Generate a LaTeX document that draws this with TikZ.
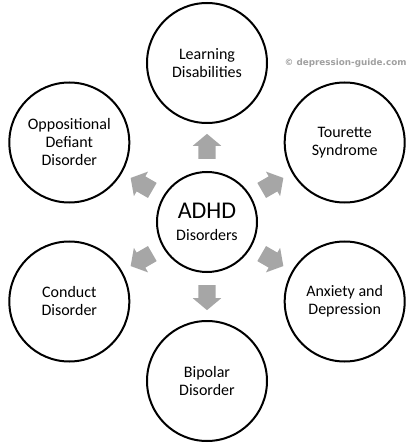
\documentclass[tikz,border=0pt]{standalone}
\usepackage{fontspec}
\setmainfont{Carlito}
\newfontfamily\markfont{DejaVu Sans}
\usetikzlibrary{shapes.arrows,calc}
\definecolor{arrowgray}{HTML}{A6A6A6}
\definecolor{markgray}{HTML}{A0A0A0}

\tikzset{
  disorder/.style={circle,draw,line width=2pt,minimum size=120pt,align=center,font=\fontsize{16}{18}\selectfont},
  hub/.style={circle,draw,line width=2pt,minimum size=100pt,align=center,font=\fontsize{16}{22}\selectfont},
  block/.style={single arrow,fill=arrowgray,draw=none,minimum height=25pt,inner xsep=0pt,inner ysep=8.5pt,single arrow head extend=5.5pt,single arrow tip angle=100}
}

\begin{document}
\begin{tikzpicture}[x=1pt,y=1pt]
		\useasboundingbox (-207,-222) rectangle (207,222);
		
		% Center
		\node[hub] (adhd) at (0,0) {{\fontsize{24}{24}\selectfont ADHD}\\Disorders};
		
		% Circles
		\node[disorder] (learn) at (90:159) {Learning\\Disabilities};
		\node[disorder] (tourette) at (30:159) {Tourette\\Syndrome};
		\node[disorder] (anxiety) at (-30:159) {Anxiety and\\Depression};
		\node[disorder] (bipolar) at (-90:159) {Bipolar\\Disorder};
		\node[disorder] (conduct) at (-150:159) {Conduct\\Disorder};
		\node[disorder] (odd) at (150:159) {Oppositional\\Defiant\\Disorder};
		
		% Arrows
		\foreach \nm/\ang in {learn/90,tourette/30,anxiety/-30,bipolar/-90,conduct/-150,odd/150}
			\node[block,rotate=\ang] (to\nm) at ($(adhd)!72pt!(\nm)$) {};
		
		% Nodes
		\node[anchor=east,text=markgray,font=\markfont\bfseries\fontsize{8.8}{10}\selectfont] (mark) at (203,159) {© depression-guide.com};
\end{tikzpicture}
\end{document}
